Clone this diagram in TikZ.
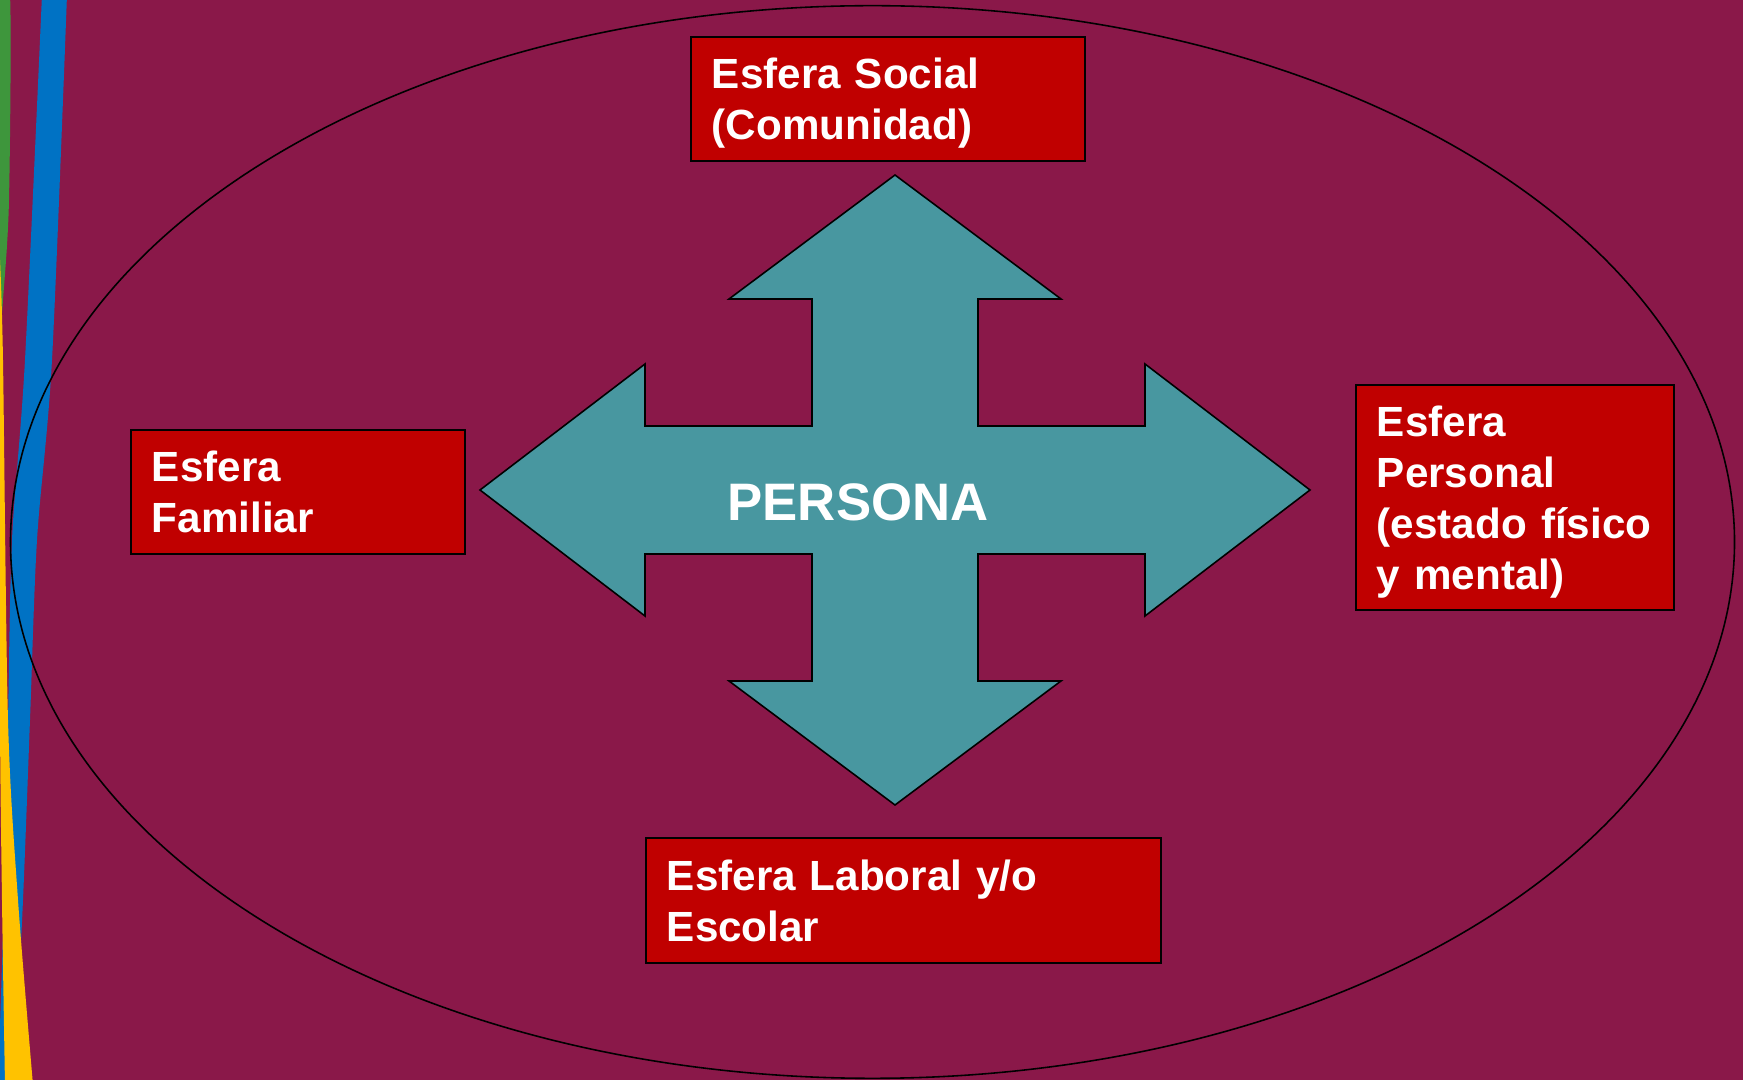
\documentclass[tikz,border=0pt]{standalone}
\usepackage{fontspec}
\setmainfont{Liberation Sans}
\usepackage{xcolor}
\definecolor{fondo}{RGB}{138,24,73}
\definecolor{rojo}{RGB}{192,0,0}
\definecolor{verdeazul}{RGB}{72,151,160}
\definecolor{azul}{RGB}{0,114,196}
\definecolor{amarillo}{RGB}{255,194,0}
\definecolor{verde}{RGB}{62,150,60}
\newcommand{\alto}{\rule{0pt}{11.2pt}}

\begin{document}
\begin{tikzpicture}[x=0.01cm,y=-0.01cm]
    \tikzstyle{esfera}=[rectangle,draw=black,line width=0.6pt,fill=rojo,text=white,
      inner xsep=0.21cm,align=left,font=\fontsize{12}{14.5}\selectfont\bfseries]
    \useasboundingbox (0,0) rectangle (1743,1080);
    \fill[fondo] (0,0) rectangle (1743,1080);
    % franjas de la izquierda
    \begin{scope}
      \clip (0,0) rectangle (1743,1080);
      \fill[verde] plot[smooth] coordinates {(-2,-5) (10,-5) (9,200) (3,300) (0,335)} -- (-2,335) -- cycle;
      \fill[azul] plot[smooth] coordinates {(42,-5) (25,360) (12,540) (8,720) (4,900) (-2,1085)}
        -- plot[smooth] coordinates {(14,1085) (23,900) (30,720) (37,540) (52,360) (67,-5)} -- cycle;
      \fill[amarillo] plot[smooth] coordinates {(-1,230) (-1,360) (0,720) (2,900) (5,1085)}
        -- plot[smooth] coordinates {(33,1085) (18,900) (8,720) (3,360) (0,260)} -- cycle;
    \end{scope}
    \draw[line width=0.45pt] (872.5,542) ellipse [x radius=8.615cm, y radius=5.36cm];
    % la cruz
    \coordinate (centro) at (895,490);
    \draw[fill=verdeazul,line width=0.45pt,shift={(centro)}]
      (0,-315) -- (166,-191) -- (83,-191) -- (83,-64) -- (250,-64) -- (250,-126)
      -- (415,0) -- (250,126) -- (250,64) -- (83,64) -- (83,191) -- (166,191)
      -- (0,315) -- (-166,191) -- (-83,191) -- (-83,64) -- (-250,64) -- (-250,126)
      -- (-415,0) -- (-250,-126) -- (-250,-64) -- (-83,-64) -- (-83,-191) -- (-166,-191)
      -- cycle;
    \node[text=white,font=\fontsize{15}{18}\selectfont\bfseries] (persona) at (858,502) {PERSONA};
    % las esferas
    \node[esfera,minimum width=3.94cm,minimum height=1.24cm,text width=3.52cm] (social) at (888,99) {\alto Esfera Social\\(Comunidad)};
    \node[esfera,minimum width=3.34cm,minimum height=1.24cm,text width=2.92cm] (familiar) at (298,492) {Esfera\\Familiar};
    \node[esfera,minimum width=3.18cm,minimum height=2.25cm,text width=2.76cm] (personal) at (1515,497.5) {\alto Esfera\\Personal\\(estado físico\\y mental)};
    \node[esfera,minimum width=5.15cm,minimum height=1.25cm,text width=4.73cm] (laboral) at (903.5,900.5) {Esfera Laboral y/o\\Escolar};
\end{tikzpicture}
\end{document}
